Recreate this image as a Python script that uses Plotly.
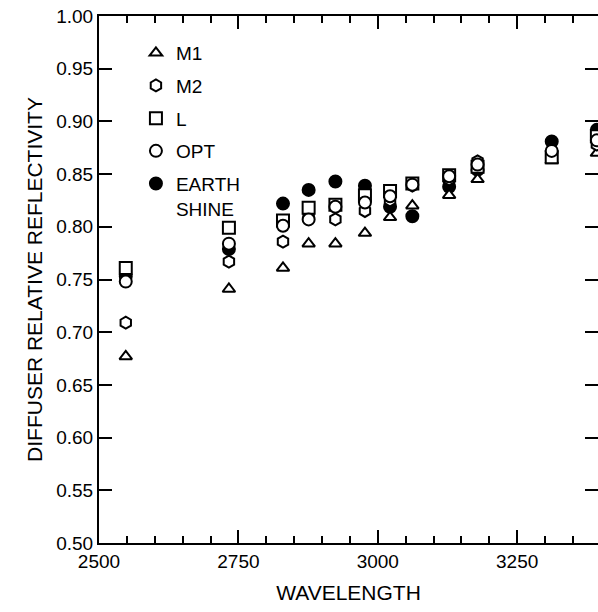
import plotly.graph_objects as go

# wavelength positions of the measurement clusters
wavelength = [2548, 2733, 2830, 2876, 2924, 2977, 3022, 3062, 3128, 3179, 3312, 3393]

m1 = [0.677, 0.741, 0.761, 0.784, 0.784, 0.794, 0.809, 0.820, 0.830, 0.845, 0.863, 0.870]
m2 = [0.709, 0.767, 0.786, 0.812, 0.807, 0.815, 0.825, 0.839, 0.845, 0.862, 0.868, 0.878]
l_ser = [0.761, 0.799, 0.806, 0.818, 0.821, 0.830, 0.834, 0.841, 0.849, 0.857, 0.866, 0.886]
opt = [0.748, 0.784, 0.801, 0.807, 0.819, 0.823, 0.829, 0.840, 0.848, 0.859, 0.872, 0.882]
earth = [0.753, 0.779, 0.822, 0.835, 0.843, 0.839, 0.819, 0.810, 0.838, 0.854, 0.881, 0.892]

series_names = ["M1", "M2", "L", "OPT", "EARTH<br>SHINE"]
x_ticks = [2500, 2750, 3000, 3250]
y_ticks = [0.50, 0.55, 0.60, 0.65, 0.70, 0.75, 0.80, 0.85, 0.90, 0.95, 1.00]

FONT = "Liberation Sans, Arial, Helvetica, sans-serif"
fig = go.Figure()

def add(y, name, symbol, filled, rank):
    fig.add_trace(go.Scatter(
        x=wavelength, y=y, mode="markers", name=name,
        legendgroup=name, legendrank=rank,
        marker=dict(symbol=symbol, size=12 if symbol != "triangle-up" else 11,
                    color="black" if filled else "white",
                    line=dict(color="black", width=2)),
    ))

add(earth, series_names[4], "circle", True, 5)
add(m1, series_names[0], "triangle-up", False, 1)
add(m2, series_names[1], "hexagon", False, 2)
add(l_ser, series_names[2], "square", False, 3)
add(opt, series_names[3], "circle", False, 4)

# empty trace to anchor the mirrored top/right tick axes
fig.add_trace(go.Scatter(x=[], y=[], xaxis="x2", yaxis="y2", showlegend=False))

common_x = dict(range=[2500, 3395], tickvals=x_ticks, ticks="inside", ticklen=13,
                tickwidth=1.5, tickcolor="black",
                minor=dict(dtick=50, tick0=2500, ticks="inside", ticklen=7,
                           tickwidth=1.5, tickcolor="black"),
                showgrid=False, zeroline=False)
common_y = dict(range=[0.5, 1.0], tickvals=y_ticks, ticks="inside", ticklen=13,
                tickwidth=1.5, tickcolor="black", showgrid=False, zeroline=False)

fig.update_layout(
    width=598, height=612,
    margin=dict(l=99, r=0, t=16, b=69),
    paper_bgcolor="white", plot_bgcolor="white",
    font=dict(family=FONT, size=19, color="black"),
    showlegend=True,
    legend=dict(x=0.074, y=0.966, xanchor="left", yanchor="top",
                bgcolor="rgba(0,0,0,0)", font=dict(size=19),
                traceorder="grouped", tracegroupgap=5, valign="top",
                itemwidth=30),
    xaxis=dict(**common_x, showline=True, linecolor="black", linewidth=2,
               tickfont=dict(size=19),
               title=dict(text="WAVELENGTH", font=dict(size=21), standoff=15)),
    yaxis=dict(**common_y, showline=True, linecolor="black", linewidth=2,
               tickformat=".2f", tickfont=dict(size=19),
               title=dict(text="DIFFUSER RELATIVE REFLECTIVITY", font=dict(size=21), standoff=8)),
    xaxis2=dict(**common_x, overlaying="x", side="top", matches="x", showline=True,
                linecolor="black", linewidth=2, showticklabels=False),
    yaxis2=dict(**common_y, overlaying="y", side="right", matches="y", showline=False,
                showticklabels=False),
)

fig.write_html("out.html")
